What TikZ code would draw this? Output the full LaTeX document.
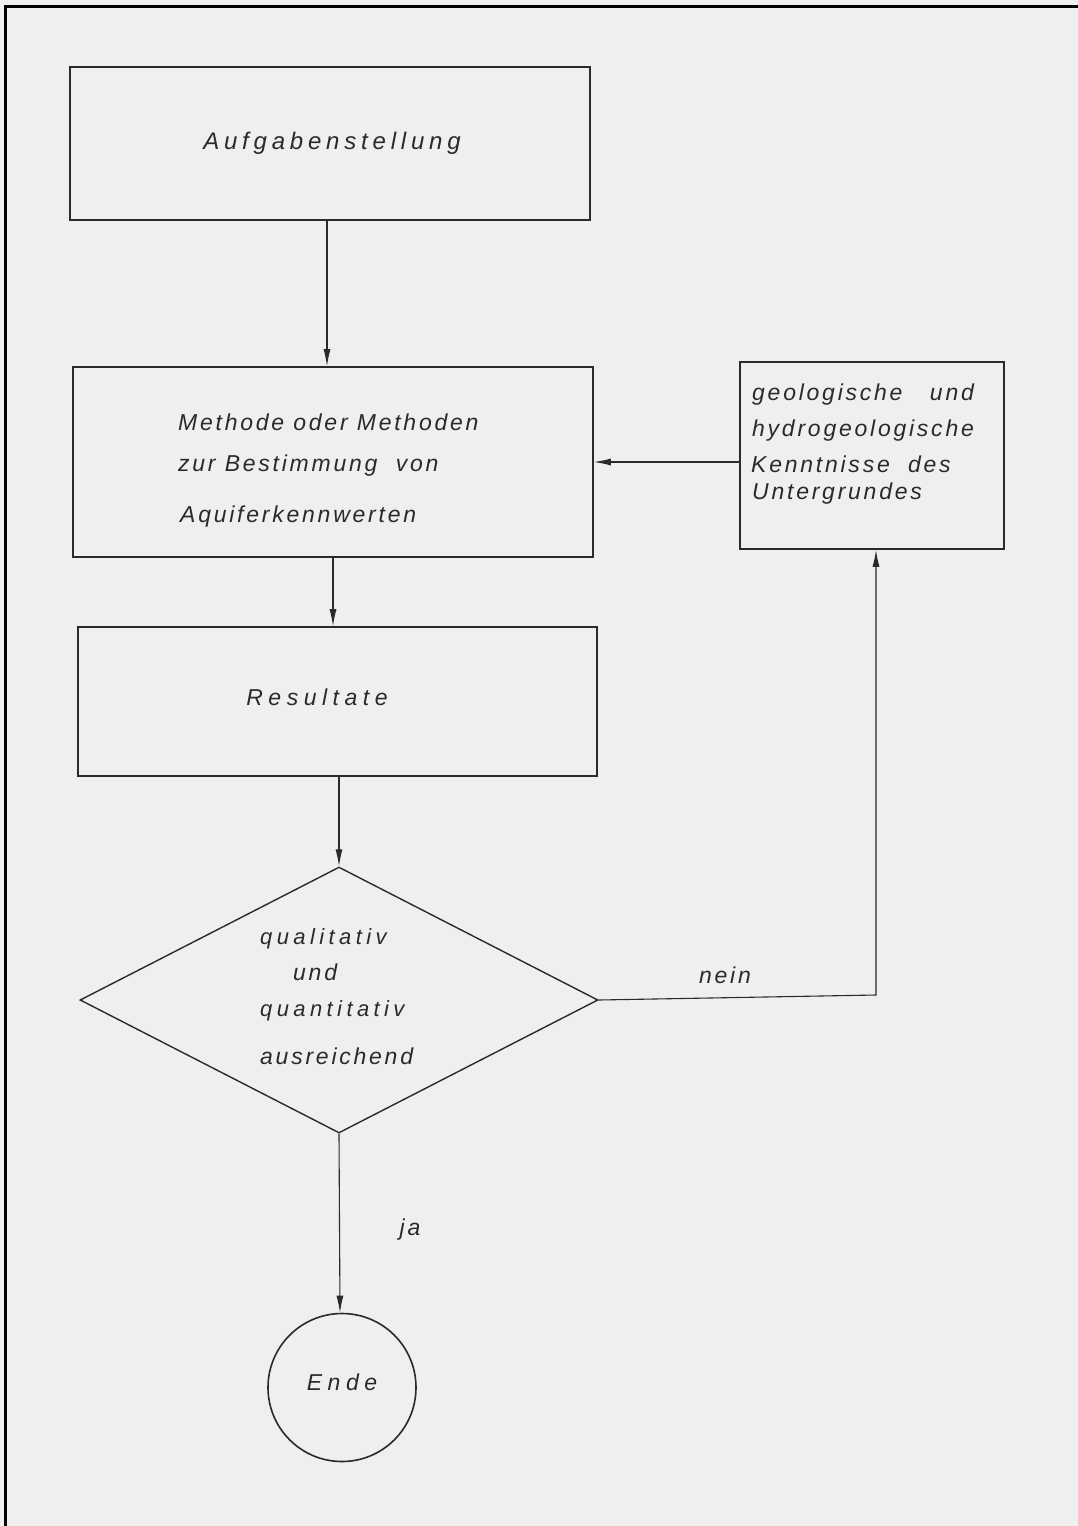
\documentclass[tikz,border=0pt]{standalone}
\usepackage{fontspec}
\setmainfont{Liberation Sans}
\newfontfamily\hand{Liberation Sans}[LetterSpace=12]
\newfontfamily\handwide{Liberation Sans}[LetterSpace=24]
\newfontfamily\handmid{Liberation Sans}[LetterSpace=20]
\usetikzlibrary{shapes.geometric,arrows.meta}
\definecolor{paper}{HTML}{EFEFEF}
\definecolor{ink}{HTML}{2A2A2A}
\tikzset{
  box/.style={draw=ink, line width=1.6pt, rectangle, inner sep=0pt},
  lbl/.style={text=ink, font=\hand\itshape\fontsize{23}{27}\selectfont, inner sep=0pt},
  wlbl/.style={text=ink, font=\handwide\itshape\fontsize{23}{27}\selectfont, inner sep=0pt},
  mlbl/.style={text=ink, font=\handmid\itshape\fontsize{22}{26}\selectfont, inner sep=0pt},
  flow/.style={draw=ink, line width=1.1pt, -{Latex[length=17pt,width=7pt]}},
}
\begin{document}
\begin{tikzpicture}[x=1pt,y=-1pt]
\fill[paper] (0,0) rectangle (1078,1526);
\useasboundingbox (0,0) rectangle (1078,1526);
\draw[black, line width=3pt] (5.5,1526) -- (5.5,6.5) -- (1078,6.5);

% boxes
\node[box, minimum width=520pt, minimum height=153pt] (auf) at (330,143.5) {};
\node[box, minimum width=520pt, minimum height=190pt] (meth) at (333,462) {};
\node[box, minimum width=264pt, minimum height=187pt] (geo) at (872,455.5) {};
\node[box, minimum width=519pt, minimum height=149pt] (res) at (337.5,701.5) {};
\node[draw=ink, line width=1.4pt, diamond, minimum width=518pt, minimum height=266pt, inner sep=0pt] (dec) at (339,1000) {};
\node[draw=ink, line width=1.6pt, circle, minimum size=148pt, inner sep=0pt] (ende) at (342,1387.5) {};

% texts
\node[mlbl, font=\handmid\itshape\fontsize{24}{28}\selectfont] (tauf) at (332,143) {Aufgabenstellung};
\node[lbl, anchor=west] (tm1) at (178,422) {Methode oder Methoden};
\node[lbl, anchor=west] (tm2) at (178,466) {zur Bestimmung\ \ von};
\node[lbl, anchor=west] (tm3) at (180,517) {Aquiferkennwerten};
\node[lbl, anchor=west] (tg1) at (752,395) {geologische\ \ \ und};
\node[lbl, anchor=west] (tg2) at (752,431) {hydrogeologische};
\node[lbl, anchor=west] (tg3) at (751,464) {Kenntnisse\ \ des};
\node[lbl, anchor=west] (tg4) at (752,494) {Untergrundes};
\node[wlbl] (tres) at (317,697) {Resultate};
\node[mlbl, anchor=west] (tq1) at (260,939) {qualitativ};
\node[lbl, anchor=west] (tq2) at (293,972) {und};
\node[mlbl, anchor=west] (tq3) at (260,1011) {quantitativ};
\node[lbl, anchor=west] (tq4) at (260,1056) {ausreichend};
\node[wlbl] (tende) at (342,1382) {Ende};
\node[lbl] (tnein) at (725,975) {nein};
\node[lbl] (tja) at (410,1230) {ja};

% connectors
\coordinate (a1) at (327,0);
\draw[flow] (a1 |- auf.south) -- (a1 |- meth.north);
\draw[flow] (geo.west |- meth.east) -- (meth.east);
\coordinate (a2) at (333,0);
\draw[flow] (a2 |- meth.south) -- (a2 |- res.north);
\draw[flow] (res.south -| dec.north) -- (dec.north);
\coordinate (corner) at (876,995);
\draw[flow] (dec.east) -- (corner) -- (corner |- geo.south);
\coordinate (a3) at (340,0);
\draw[flow] (dec.south) -- (a3 |- ende.north);
\end{tikzpicture}
\end{document}
